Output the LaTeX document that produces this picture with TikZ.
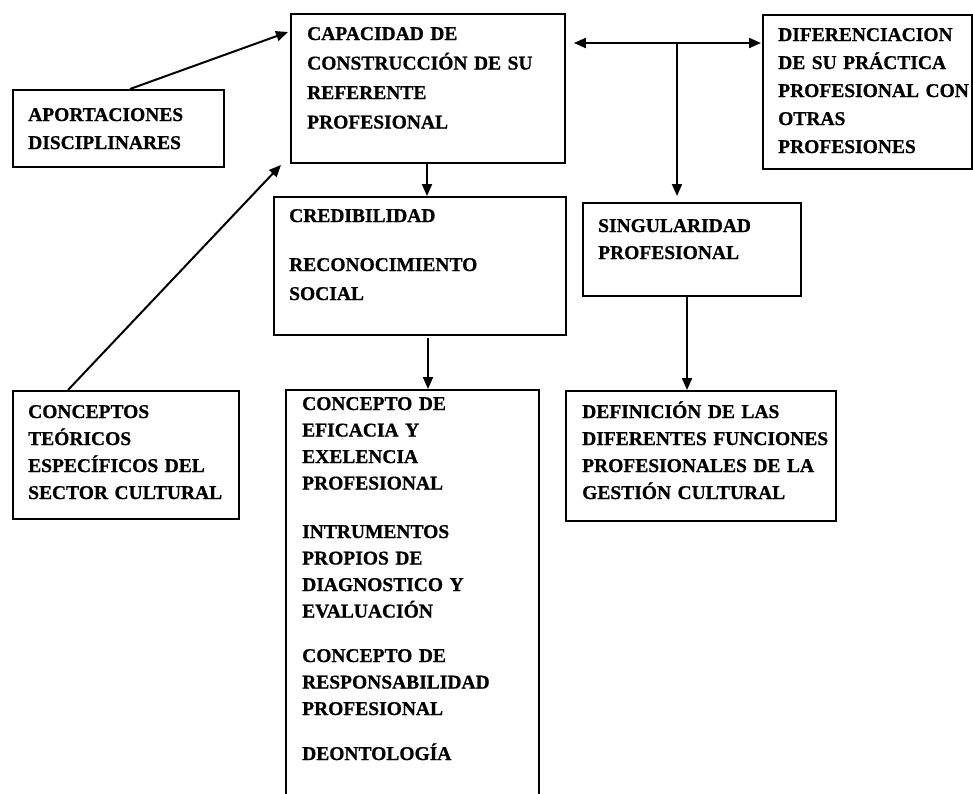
\documentclass[tikz,border=0pt]{standalone}
\usepackage{fontspec}
\setmainfont{Liberation Serif}[BoldFeatures={FakeBold=0.8}]
\usetikzlibrary{arrows.meta,calc}
\begin{document}
\begin{tikzpicture}[x=1pt,y=-1pt,
 box/.style={draw, line width=1.9pt, inner sep=0pt, anchor=north west},
 txt/.style={anchor=base west, inner sep=0pt, text width=270pt, align=left},
 sk/.style={font=\fontsize{19.5}{#1}\selectfont\bfseries},
 arr/.style={line width=2pt, -{Triangle[length=12pt,width=10pt]}},
 darr/.style={line width=2pt, {Triangle[length=12pt,width=10pt]}-{Triangle[length=12pt,width=10pt]}}]
\useasboundingbox (0,0) rectangle (973,793);
\clip (0,0) rectangle (973,793);
% boxes
\node[box, minimum width=211pt, minimum height=77pt] (aport) at (12,89) {};
\node[box, minimum width=274pt, minimum height=149pt] (cap) at (290,13) {};
\node[box, minimum width=209pt, minimum height=154pt] (dif) at (762,14) {};
\node[box, minimum width=218pt, minimum height=93pt] (sing) at (582,202) {};
\node[box, minimum width=292pt, minimum height=138pt] (cred) at (273,196) {};
\node[box, minimum width=226pt, minimum height=128pt] (conc) at (12,390) {};
\node[box, minimum width=270pt, minimum height=130pt] (def) at (565,390) {};
\node[box, minimum width=253pt, minimum height=420pt] (big) at (285,389) {};
% texts
\node[txt, sk=28] (taport) at (28,121) {APORTACIONES\\DISCIPLINARES};
\node[txt, sk=29.5] (tcap) at (307,40) {CAPACIDAD DE\\CONSTRUCCIÓN DE SU\\REFERENTE\\PROFESIONAL};
\node[txt, sk=28] (tdif) at (778,41) {DIFERENCIACION\\DE SU PRÁCTICA\\PROFESIONAL CON\\OTRAS\\PROFESIONES};
\node[txt, sk=27] (tsing) at (598,232) {SINGULARIDAD\\PROFESIONAL};
\node[txt, sk=29] (tcred1) at (289,222) {CREDIBILIDAD};
\node[txt, sk=29] (tcred2) at (289,271) {RECONOCIMIENTO\\SOCIAL};
\node[txt, sk=27] (tconc) at (28,418) {CONCEPTOS\\TEÓRICOS\\ESPECÍFICOS DEL\\SECTOR CULTURAL};
\node[txt, sk=27] (tdef) at (582,418) {DEFINICIÓN DE LAS\\DIFERENTES FUNCIONES\\PROFESIONALES DE LA\\GESTIÓN CULTURAL};
\node[txt, sk=26.5] (tbig1) at (302,410) {CONCEPTO DE\\EFICACIA Y\\EXELENCIA\\PROFESIONAL};
\node[txt, sk=26.5] (tbig2) at (302,538) {INTRUMENTOS\\PROPIOS DE\\DIAGNOSTICO Y\\EVALUACIÓN};
\node[txt, sk=26.5] (tbig3) at (302,662) {CONCEPTO DE\\RESPONSABILIDAD\\PROFESIONAL};
\node[txt, sk=26.5] (tbig4) at (302,760) {DEONTOLOGÍA};
% connectors
\draw[arr] ($(aport.north west)+(118,0)$) -- ($(cap.north west)+(-2,19)$);
\draw[arr] ($(conc.north west)+(56,0)$) -- ($(cap.south west)+(-9,1)$);
\coordinate (hl) at ($(cap.north east)+(8,30)$);
\coordinate (hr) at ($(dif.north west)+(-1,29)$);
\draw[darr] (hl) -- (hr);
\coordinate (br) at ($(sing.north west)+(95,-159)$);
\draw[arr] (br) -- ($(sing.north west)+(95,-6)$);
\draw[arr] ($(cap.south west)+(137,0)$) -- ($(cred.north west)+(154,0)$);
\draw[arr] ($(cred.south west)+(155,2)$) -- ($(big.north west)+(143,0)$);
\draw[arr] ($(sing.south west)+(105,0)$) -- ($(def.north west)+(122,0)$);
\end{tikzpicture}
\end{document}
